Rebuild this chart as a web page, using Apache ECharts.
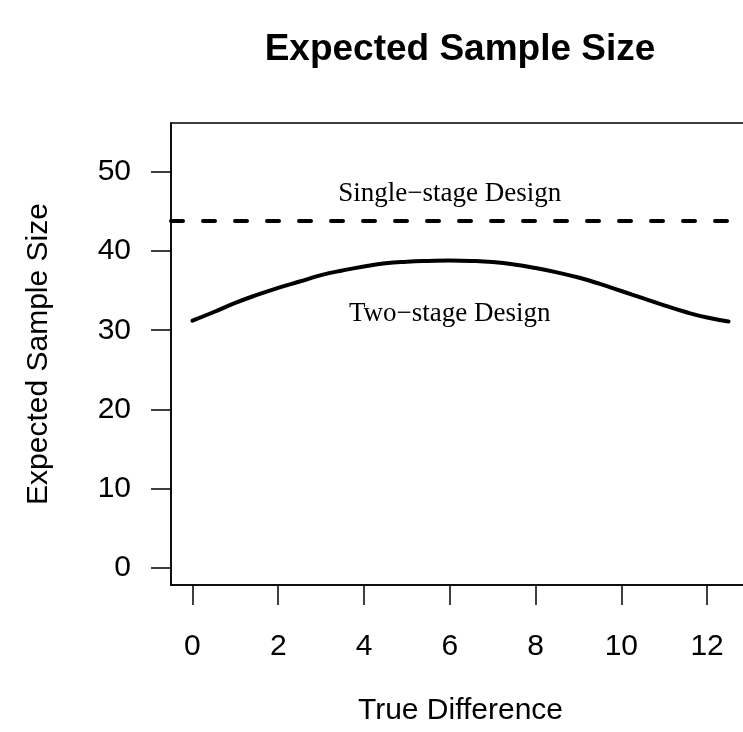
<!DOCTYPE html>
<html>
<head>
<meta charset="utf-8">
<script src="https://cdn.jsdelivr.net/npm/echarts@6/dist/echarts.min.js"></script>
<style>
  html, body { margin: 0; padding: 0; background: #fff; }
  #chart { width: 743px; height: 732px; }
</style>
</head>
<body>
<div id="chart"></div>
<script>
  // true difference (x) and expected sample size of the two-stage design
  var trueDiff = [0, 0.5, 1, 1.5, 2, 2.5, 3, 3.5, 4, 4.5, 5, 5.5, 6,
    6.5, 7, 7.5, 8, 8.5, 9, 9.5, 10, 10.5, 11, 11.5, 12, 12.5]
  var twoStage = [31.2, 32.3, 33.45, 34.45, 35.35, 36.15, 36.95, 37.55, 38.05, 38.45, 38.65, 38.75, 38.8,
    38.75, 38.6, 38.3, 37.85, 37.3, 36.65, 35.85, 34.95, 34.05, 33.15, 32.3, 31.6, 31.1]
  var singleStage = 43.8

  var xTicks = [0, 2, 4, 6, 8, 10, 12]
  var yTicks = [0, 10, 20, 30, 40, 50]

  // text annotations: [x, y, label]
  var notes = [
    [6, 47.2, 'Single\u2212stage Design'],
    [6, 32.1, 'Two\u2212stage Design']
  ]

  var sans = 'Liberation Sans, Arial, Helvetica, sans-serif'
  var serif = 'Liberation Serif, Times New Roman, serif'

  var chart = echarts.init(document.getElementById('chart'))

  chart.setOption({
    backgroundColor: '#fff',
    animation: false,
    title: {
      text: 'Expected Sample Size',
      left: 455,
      top: 26,
      textAlign: 'center',
      textStyle: {
        fontFamily: sans,
        fontSize: 37,
        fontWeight: 'bold',
        color: '#000'
      }
    },
    grid: {
      left: 171,
      top: 123,
      width: 579,
      height: 462,
      outerBoundsMode: 'none',
      containLabel: false,
      show: true,
      borderColor: '#000',
      borderWidth: 1.5,
      backgroundColor: 'transparent'
    },
    xAxis: {
      type: 'value',
      min: -0.5,
      max: 13,
      name: 'True Difference',
      nameLocation: 'middle',
      nameGap: 111,
      nameTextStyle: { fontFamily: sans, fontSize: 30, color: '#000' },
      splitLine: { show: false },
      axisLine: { onZero: false, lineStyle: { color: '#000', width: 1.5 } },
      axisTick: {
        length: 20,
        customValues: xTicks,
        lineStyle: { color: '#000', width: 1.5 }
      },
      axisLabel: {
        margin: 47,
        customValues: xTicks,
        fontFamily: sans,
        fontSize: 30,
        color: '#000'
      }
    },
    yAxis: {
      type: 'value',
      min: -2.16,
      max: 56.16,
      name: 'Expected Sample Size',
      nameLocation: 'middle',
      nameRotate: 90,
      nameGap: 117,
      nameTextStyle: { fontFamily: sans, fontSize: 30, color: '#000' },
      splitLine: { show: false },
      axisLine: { onZero: false, lineStyle: { color: '#000', width: 1.5 } },
      axisTick: {
        length: 20,
        customValues: yTicks,
        lineStyle: { color: '#000', width: 1.5 }
      },
      axisLabel: {
        margin: 40,
        customValues: yTicks,
        fontFamily: sans,
        fontSize: 30,
        color: '#000'
      }
    },
    series: [{
      type: 'line',
      data: trueDiff.map(function (x, i) { return [x, twoStage[i]] }),
      smooth: true,
      showSymbol: false,
      clip: true,
      lineStyle: { color: '#000', width: 4, cap: 'round' },
      markLine: {
        silent: true,
        symbol: 'none',
        label: { show: false },
        lineStyle: { color: '#000', width: 4, type: [12, 20], cap: 'round' },
        data: [{ yAxis: singleStage }]
      },
      markPoint: {
        silent: true,
        symbol: 'circle',
        symbolSize: 0,
        label: {
          show: true,
          position: 'inside',
          fontFamily: serif,
          fontSize: 27,
          color: '#000'
        },
        data: notes.map(function (n) {
          return { coord: [n[0], n[1]], value: n[2], label: { formatter: n[2] } }
        })
      }
    }]
  })
</script>
</body>
</html>
